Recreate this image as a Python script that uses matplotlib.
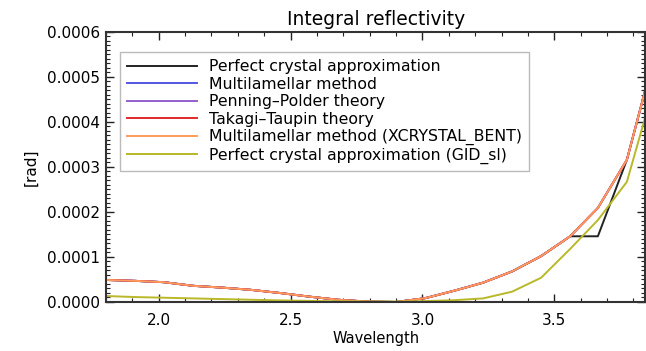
import numpy as np
import matplotlib
matplotlib.use("Agg")
import matplotlib.pyplot as plt
from matplotlib.ticker import MultipleLocator, FormatStrFormatter

# wavelength grid
wavelength = [1.80, 1.91, 2.02, 2.13, 2.24, 2.35, 2.46, 2.57, 2.68, 2.79,
              2.90, 3.01, 3.12, 3.23, 3.34, 3.45, 3.56, 3.665, 3.775, 3.885]

# multilamellar / penning-polder / takagi-taupin / xcrystal_bent all overlap
refl_multilamellar = [4.9e-5, 4.7e-5, 4.4e-5, 3.6e-5, 3.2e-5, 2.7e-5, 2.0e-5, 1.2e-5, 5.0e-6, 1.0e-6,
                      0.0, 8.5e-6, 2.5e-5, 4.3e-5, 6.8e-5, 1.02e-4, 1.46e-4, 2.09e-4, 3.16e-4, 5.6e-4]
refl_penning = list(refl_multilamellar)
refl_takagi = list(refl_multilamellar)
refl_bent = list(refl_multilamellar)
# perfect crystal: same curve but with a flat step near 3.6
refl_perfect = [4.9e-5, 4.7e-5, 4.4e-5, 3.6e-5, 3.2e-5, 2.7e-5, 2.0e-5, 1.2e-5, 5.0e-6, 1.0e-6,
                0.0, 8.5e-6, 2.5e-5, 4.3e-5, 6.8e-5, 1.02e-4, 1.46e-4, 1.46e-4, 3.16e-4, 5.6e-4]
refl_gid = [1.33e-5, 1.1e-5, 9.5e-6, 8.0e-6, 6.5e-6, 5.0e-6, 3.5e-6, 2.5e-6, 1.5e-6, 1.0e-6,
            1.0e-6, 2.0e-6, 4.0e-6, 8.0e-6, 2.3e-5, 5.4e-5, 1.18e-4, 1.82e-4, 2.67e-4, 4.94e-4]

labels = ["Perfect crystal approximation", "Multilamellar method", "Penning\u2013Polder theory",
          "Takagi\u2013Taupin theory", "Multilamellar method (XCRYSTAL_BENT)",
          "Perfect crystal approximation (GID_sl)"]
series = [refl_perfect, refl_multilamellar, refl_penning, refl_takagi, refl_bent, refl_gid]
colors = ["#222222", "#5555e6", "#9460d0", "#e02a2a", "#ff9a5c", "#b8b828"]

plt.rcParams["font.family"] = "DejaVu Sans"
fig = plt.figure(figsize=(6.46, 3.51), dpi=100)
ax = fig.add_axes([0.164, 0.1396, 0.835, 0.7694])

for ys, lab, c in zip(series, labels, colors):
    ax.plot(wavelength, ys, color=c, lw=1.4, label=lab)

ax.set_xlim(1.8, 3.845)
ax.set_ylim(0, 0.0006)
ax.xaxis.set_major_locator(MultipleLocator(0.5))
ax.xaxis.set_minor_locator(MultipleLocator(0.1))
ax.yaxis.set_major_locator(MultipleLocator(0.0001))
ax.yaxis.set_minor_locator(MultipleLocator(0.00001))
ax.xaxis.set_major_formatter(FormatStrFormatter("%.1f"))
ax.yaxis.set_major_formatter(FormatStrFormatter("%.4f"))
ax.tick_params(which="both", direction="in", top=True, right=True, labelsize=11, color="#222222")
ax.tick_params(which="major", length=6, width=1.0)
ax.tick_params(axis="x", which="major", pad=8)
ax.tick_params(axis="y", which="major", pad=4)
ax.tick_params(which="minor", length=3, width=0.8)
for s in ax.spines.values():
    s.set_linewidth(1.5)
    s.set_color("#333333")

ax.set_title("Integral reflectivity", fontsize=13.5, pad=5)
ax.set_xlabel("Wavelength", fontsize=10.5, labelpad=2)
ax.set_ylabel("[rad]", fontsize=11, labelpad=6)

leg = ax.legend(loc="upper left", bbox_to_anchor=(0.012, 0.955), fontsize=11.3,
                frameon=True, fancybox=False, handlelength=4.45, handletextpad=0.75,
                labelspacing=0.16, borderpad=0.45)
leg.get_frame().set_edgecolor("#aaaaaa")
leg.get_frame().set_linewidth(1.0)

fig.savefig("out.png", dpi=100)
